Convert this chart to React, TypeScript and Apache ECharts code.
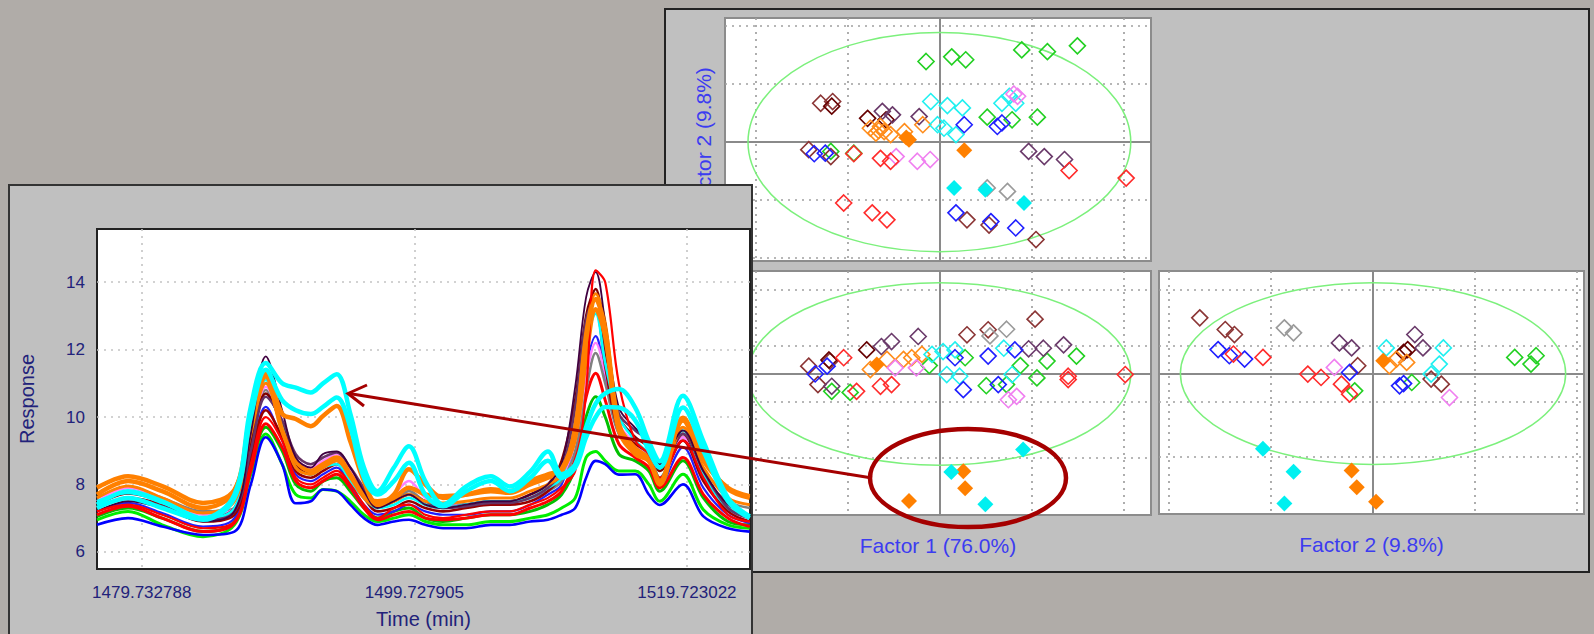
import { useEffect, useRef } from 'react';
import * as echarts from 'echarts';

const PAGE_BG = '#b0aca8';
const PANEL_BG = '#c0c0c0';
const FONT = '"Liberation Sans", Arial, sans-serif';
const NAVY = '#22227a';
const FACTOR_BLUE = '#3c3cf0';
const ANNOT_RED = '#a50000';

// ---------- Line chart data (Response vs Time) ----------
const TIMES = [1476.45, 1478.73, 1481.23, 1484.23, 1486.53, 1487.73, 1488.83, 1490.03, 1491.03, 1492.13,
  1493.03, 1494.03, 1495.03, 1496.03, 1497.03, 1498.23, 1499.33, 1500.53, 1501.83, 1503.53,
  1505.33, 1506.73, 1508.23, 1509.53, 1510.53, 1511.53, 1512.33, 1513.03, 1513.73, 1514.73,
  1515.93, 1516.93, 1517.73, 1519.43, 1520.93, 1522.73, 1524.33];
const TIME_TICKS = [1479.732788, 1499.727905, 1519.723022];
const RESPONSE_TICKS = [6, 8, 10, 12, 14];

const cyanA = [7.4, 7.8, 7.5, 7.0, 7.7, 10.3, 11.6, 11.0, 10.87, 10.73,
  11.0, 11.27, 10.1, 8.5, 7.8, 8.5, 9.13, 8.1, 7.4, 7.94,
  8.24, 7.94, 8.38, 8.98, 8.3, 8.6, 9.7, 10.4, 10.7, 10.83,
  10.28, 9.28, 8.69, 10.63, 9.28, 7.6, 7.05];
const cyanB = [7.3, 7.6, 7.3, 6.95, 7.6, 10.0, 11.4, 10.5, 10.2, 10.09,
  10.3, 10.58, 9.7, 8.2, 7.7, 8.1, 8.64, 7.7, 7.35, 7.8,
  8.1, 7.8, 8.2, 8.7, 8.2, 8.5, 9.4, 10.0, 10.3, 10.28,
  9.9, 9.0, 8.5, 10.28, 9.0, 7.5, 7.0];
const orangeA = [7.7, 8.1, 7.8, 7.3, 7.8, 10.1, 11.3, 10.1, 9.94, 9.73,
  10.03, 10.33, 9.28, 8.1, 7.4, 7.7, 8.45, 8.0, 7.6, 7.7,
  7.86, 7.8, 8.1, 8.3, 8.45, 9.6, 12.3, 13.5, 12.6, 9.8,
  9.0, 8.7, 8.1, 9.98, 8.78, 7.86, 7.6];
const orangeTop = [7.9, 8.24, 7.95, 7.45, 7.84, 9.8, 11.2, 9.6, 8.7, 8.4,
  8.6, 8.8, 8.3, 7.7, 7.5, 7.6, 7.9, 7.7, 7.65, 7.7,
  7.8, 7.75, 8.0, 8.2, 8.4, 9.4, 11.8, 13.2, 12.4, 9.6,
  8.9, 8.7, 8.0, 9.9, 8.7, 7.9, 7.65];
const purple = [7.2, 7.5, 7.3, 6.9, 7.2, 9.5, 11.8, 10.2, 8.8, 8.5,
  8.9, 8.98, 8.5, 7.8, 7.3, 7.5, 7.7, 7.4, 7.3, 7.4,
  7.5, 7.5, 7.7, 8.0, 8.6, 10.9, 13.56, 14.3, 12.8, 10.28,
  9.68, 9.3, 8.6, 9.6, 8.4, 7.4, 7.1];
const red = [7.2, 7.4, 7.1, 6.7, 6.9, 8.6, 10.0, 9.3, 8.2, 8.0,
  8.2, 8.4, 8.0, 7.4, 7.0, 7.3, 7.4, 7.1, 7.0, 7.1,
  7.2, 7.2, 7.4, 7.6, 7.9, 8.4, 10.8, 14.35, 14.0, 11.0,
  9.3, 8.9, 8.2, 9.3, 8.2, 7.1, 6.9];
const brown = [7.4, 7.73, 7.5, 7.0, 7.3, 9.2, 10.7, 9.8, 8.6, 8.3,
  8.6, 8.8, 8.3, 7.7, 7.3, 7.5, 7.7, 7.4, 7.3, 7.4,
  7.5, 7.5, 7.7, 8.0, 8.7, 10.5, 13.0, 13.8, 12.0, 10.0,
  9.4, 9.1, 8.4, 9.5, 8.3, 7.3, 7.0];
const darkred = [7.3, 7.6, 7.4, 6.9, 7.1, 8.8, 10.2, 9.4, 8.4, 8.2,
  8.4, 8.6, 8.1, 7.6, 7.2, 7.3, 7.5, 7.3, 7.2, 7.3,
  7.4, 7.4, 7.5, 7.8, 8.3, 9.8, 12.4, 13.2, 11.5, 9.6,
  9.2, 8.9, 8.2, 9.3, 8.1, 7.2, 6.9];
const pink = [7.5, 7.9, 7.6, 7.1, 7.3, 9.3, 10.9, 9.9, 8.78, 8.5,
  8.7, 8.9, 8.4, 7.8, 7.4, 7.7, 8.1, 7.6, 7.35, 7.4,
  7.5, 7.5, 7.6, 7.9, 8.2, 9.3, 11.2, 12.2, 11.3, 9.8,
  9.2, 8.8, 8.1, 9.4, 8.1, 7.2, 6.9];
const gray = [7.6, 7.9, 7.6, 7.2, 7.3, 9.0, 10.8, 9.7, 8.6, 8.3,
  8.5, 8.7, 8.2, 7.7, 7.4, 7.5, 7.8, 7.5, 7.4, 7.4,
  7.5, 7.5, 7.6, 7.8, 8.1, 9.0, 10.8, 11.9, 11.0, 9.5,
  9.1, 8.9, 8.2, 9.4, 8.2, 7.5, 7.3];
const blue = [6.8, 7.0, 6.75, 6.5, 6.6, 8.0, 9.4, 8.6, 7.44, 7.5,
  7.85, 7.8, 7.4, 7.0, 6.8, 6.9, 6.95, 6.8, 6.7, 6.7,
  6.8, 6.8, 6.9, 6.95, 7.1, 7.3, 8.2, 8.7, 8.6, 8.29,
  8.3, 7.7, 7.39, 8.0, 7.05, 6.7, 6.6];
const green = [6.95, 7.2, 6.8, 6.45, 6.8, 8.3, 9.5, 8.6, 7.7, 7.6,
  7.85, 7.8, 7.5, 7.1, 6.9, 7.0, 7.1, 6.9, 6.8, 6.8,
  6.9, 6.9, 7.0, 7.1, 7.3, 7.6, 8.8, 8.98, 8.7, 8.4,
  8.4, 8.0, 7.5, 8.3, 7.25, 6.8, 6.7];
const green2 = [7.05, 7.3, 7.0, 6.6, 6.9, 8.5, 9.7, 9.0, 8.0, 7.8,
  8.1, 8.2, 7.8, 7.3, 7.0, 7.2, 7.3, 7.0, 6.9, 7.0,
  7.1, 7.1, 7.2, 7.4, 7.7, 8.5, 10.0, 10.6, 10.0, 8.9,
  8.7, 8.4, 7.8, 8.7, 7.6, 6.9, 6.8];
const red2 = [7.1, 7.35, 7.0, 6.6, 6.85, 8.4, 9.8, 9.1, 8.1, 7.9,
  8.1, 8.3, 7.9, 7.3, 6.95, 7.1, 7.2, 7.0, 6.95, 7.0,
  7.1, 7.1, 7.3, 7.5, 7.8, 8.8, 10.6, 11.3, 10.5, 9.2,
  8.8, 8.5, 7.9, 8.8, 7.7, 7.0, 6.75];
const blue2 = [7.2, 7.45, 7.15, 6.75, 7.0, 8.8, 10.3, 9.3, 8.3, 8.1,
  8.3, 8.5, 8.0, 7.4, 7.1, 7.2, 7.4, 7.2, 7.1, 7.1,
  7.2, 7.2, 7.4, 7.7, 8.0, 9.4, 11.5, 12.4, 11.2, 9.5,
  9.0, 8.7, 8.0, 9.1, 7.9, 7.1, 6.85];
const cyanC = [7.5, 7.75, 7.45, 7.0, 7.3, 9.6, 11.1, 9.7, 8.5, 8.3,
  8.5, 8.6, 8.1, 7.6, 7.3, 7.4, 7.6, 7.4, 7.3, 7.4,
  7.5, 7.5, 7.6, 7.9, 8.2, 9.8, 12.2, 13.07, 11.6, 10.0,
  9.3, 8.9, 8.2, 9.6, 8.3, 7.3, 7.05];
const orangeB = [7.6, 7.95, 7.6, 7.15, 7.5, 9.5, 11.0, 9.6, 8.5, 8.3,
  8.5, 8.7, 8.2, 7.6, 7.35, 7.5, 7.7, 7.5, 7.45, 7.5,
  7.6, 7.6, 7.8, 8.0, 8.3, 9.8, 12.6, 13.66, 12.8, 9.8,
  9.1, 8.8, 8.1, 9.7, 8.5, 7.6, 7.4];
const plum = [7.3, 7.6, 7.35, 6.95, 7.2, 9.0, 10.6, 9.9, 8.9, 8.6,
  8.8, 8.95, 8.5, 7.9, 7.4, 7.5, 7.7, 7.5, 7.3, 7.35,
  7.45, 7.45, 7.6, 7.9, 8.4, 10.3, 12.9, 13.5, 12.2, 10.1,
  9.6, 9.28, 8.5, 9.5, 8.4, 7.3, 7.0];

const TRACES = [
  { values: green, color: '#00ee00', width: 3 },
  { values: blue, color: '#0000ff', width: 2.6 },
  { values: green2, color: '#00c000', width: 3 },
  { values: red2, color: '#ff0000', width: 3 },
  { values: blue2, color: '#2020ff', width: 2.2 },
  { values: gray, color: '#808080', width: 2.6 },
  { values: pink, color: '#ff80ff', width: 2.4 },
  { values: darkred, color: '#990000', width: 2.6 },
  { values: brown, color: '#800000', width: 2.6 },
  { values: cyanC, color: '#00ffff', width: 2.6 },
  { values: plum, color: '#663366', width: 2.6 },
  { values: orangeB, color: '#ff8000', width: 3 },
  { values: orangeTop, color: '#ff8000', width: 4.5 },
  { values: purple, color: '#400040', width: 1.8 },
  { values: red, color: '#ff0000', width: 2.2 },
  { values: orangeA, color: '#ff8000', width: 4.5 },
  { values: cyanB, color: '#00ffff', width: 4.5 },
  { values: cyanA, color: '#00ffff', width: 4.5 },
];

// ---------- Scatter (factor score) data ----------
const ELL_F1 = 2.08;
const ELL_F2 = 1.89;
const ELL_F3 = 1.63;

const f12Green = [[-0.145, 1.39], [0.134, 1.47], [0.286, 1.42], [0.895, 1.59], [1.174, 1.56], [1.5, 1.66], [1.065, 0.43], [0.52, 0.43], [0.79, 0.385], [-1.18, -0.16], [-0.93, -0.19]];
const f12Brown = [[-1.29, 0.67], [-1.16, 0.70], [-1.42, -0.13], [-1.18, -0.25], [0.30, -1.34], [0.54, -1.43], [1.05, -1.68]];
const f12Maroon = [[-0.78, 0.41], [-0.58, 0.385], [-1.17, 0.62]];
const f12Purple = [[-0.62, 0.53], [-0.51, 0.47], [-0.22, 0.44], [0.97, -0.16], [1.14, -0.25], [1.36, -0.30]];
const f12Orange = [[-0.75, 0.24], [-0.64, 0.27], [-0.60, 0.18], [-0.53, 0.13], [-0.38, 0.18], [-0.18, 0.30], [-0.69, 0.155], [-0.66, 0.2]];
const f12Cyan = [[-0.094, 0.70], [0.087, 0.63], [0.25, 0.59], [-0.02, 0.30], [0.05, 0.24], [0.18, 0.13], [0.68, 0.67], [0.76, 0.79], [0.83, 0.67]];
const f12Blue = [[0.27, 0.30], [0.63, 0.27], [0.68, 0.33], [-1.36, -0.20], [-1.24, -0.19], [0.18, -1.22], [0.56, -1.37], [0.83, -1.48]];
const f12Pink = [[0.81, 0.83], [0.85, 0.79], [-0.47, -0.25], [-0.24, -0.33], [-0.10, -0.30]];
const f12Red = [[-0.64, -0.28], [-0.53, -0.33], [-0.93, -0.20], [1.41, -0.49], [2.03, -0.62], [-1.04, -1.05], [-0.73, -1.22], [-0.57, -1.34]];
const f12Gray = [[0.52, -0.79], [0.74, -0.85]];
const f12OrangeFilled = [[-0.33, 0.04], [0.27, -0.14], [-0.36, 0.08]];
const f12CyanFilled = [[0.16, -0.79], [0.50, -0.82], [0.92, -1.05]];

const f13Green = [[-1.17, -0.31], [-0.97, -0.33], [-0.11, 0.15], [0.28, 0.29], [0.51, -0.21], [0.88, 0.15], [1.17, 0.23], [1.49, 0.32], [1.06, -0.07], [0.73, -0.19]];
const f13Brown = [[-1.42, 0.14], [-1.19, 0.23], [-1.32, -0.19], [0.30, 0.70], [0.53, 0.79], [1.04, 0.98]];
const f13Maroon = [[-0.79, 0.43], [-1.2, 0.25]];
const f13Purple = [[-0.63, 0.49], [-0.52, 0.58], [-0.23, 0.67], [0.97, 0.45], [1.13, 0.46], [1.35, 0.52], [-1.17, -0.22]];
const f13Orange = [[-0.75, 0.08], [-0.57, 0.26], [-0.39, 0.26], [-0.30, 0.29], [-0.19, 0.35]];
const f13Cyan = [[-0.08, 0.35], [0.04, 0.40], [0.17, 0.43], [0.08, -0.01], [0.22, -0.04], [0.70, 0.46], [0.79, -0.01]];
const f13Blue = [[-1.35, 0.0], [-1.22, 0.14], [0.17, 0.29], [0.53, 0.32], [0.82, 0.43], [0.26, -0.28], [0.64, -0.19]];
const f13Pink = [[-0.48, 0.11], [-0.25, 0.11], [0.75, -0.46], [0.84, -0.40]];
const f13Red = [[-1.04, 0.29], [-0.90, -0.31], [-0.64, -0.22], [-0.52, -0.19], [1.40, -0.04], [1.40, -0.10], [2.02, -0.01]];
const f13Gray = [[0.55, 0.68], [0.73, 0.80]];
const f13OrangeFilled = [[-0.68, 0.17], [0.26, -1.74], [0.28, -2.04], [-0.33, -2.27]];
const f13CyanFilled = [[0.91, -1.35], [0.13, -1.75], [0.50, -2.33]];

const f23Green = [[-0.18, -0.31], [0.38, -0.16], [1.39, 0.29], [1.60, 0.32], [1.55, 0.17]];
const f23Brown = [[-1.70, 1.0], [-1.45, 0.79], [-1.36, 0.70], [0.57, -0.10], [0.67, -0.19], [-0.15, 0.14]];
const f23Maroon = [[0.34, 0.43], [0.30, 0.38]];
const f23Purple = [[-0.33, 0.55], [-0.21, 0.46], [0.41, 0.70], [0.49, 0.46]];
const f23Orange = [[0.16, 0.14], [0.33, 0.20], [0.23, 0.26]];
const f23Cyan = [[0.13, 0.46], [0.69, 0.46], [0.65, 0.17], [0.57, -0.01]];
const f23Blue = [[-1.52, 0.43], [-1.41, 0.32], [-1.26, 0.26], [-0.23, 0.02], [0.26, -0.22], [0.30, -0.18]];
const f23Pink = [[-0.38, 0.11], [0.75, -0.43]];
const f23Red = [[-1.37, 0.35], [-1.08, 0.29], [-0.64, -0.01], [-0.51, -0.07], [-0.31, -0.19], [-0.23, -0.37]];
const f23Gray = [[-0.87, 0.82], [-0.78, 0.73]];
const f23OrangeFilled = [[0.10, 0.23], [-0.21, -1.74], [-0.16, -2.04], [0.03, -2.30]];
const f23CyanFilled = [[-1.08, -1.35], [-0.78, -1.76], [-0.87, -2.33]];

const GROUPS = [
  { color: '#22d022', filled: false, f12: f12Green, f13: f13Green, f23: f23Green },
  { color: '#8b3535', filled: false, f12: f12Brown, f13: f13Brown, f23: f23Brown },
  { color: '#660000', filled: false, f12: f12Maroon, f13: f13Maroon, f23: f23Maroon },
  { color: '#6a3a6a', filled: false, f12: f12Purple, f13: f13Purple, f23: f23Purple },
  { color: '#ff8c1a', filled: false, f12: f12Orange, f13: f13Orange, f23: f23Orange },
  { color: '#20f0f0', filled: false, f12: f12Cyan, f13: f13Cyan, f23: f23Cyan },
  { color: '#1f1fff', filled: false, f12: f12Blue, f13: f13Blue, f23: f23Blue },
  { color: '#f07ff0', filled: false, f12: f12Pink, f13: f13Pink, f23: f23Pink },
  { color: '#ff2b2b', filled: false, f12: f12Red, f13: f13Red, f23: f23Red },
  { color: '#9a9a9a', filled: false, f12: f12Gray, f13: f13Gray, f23: f23Gray },
  { color: '#ff8000', filled: true, f12: f12OrangeFilled, f13: f13OrangeFilled, f23: f23OrangeFilled },
  { color: '#00f0f0', filled: true, f12: f12CyanFilled, f13: f13CyanFilled, f23: f23CyanFilled },
];

const PLOTS = [
  { key: 'f12', rect: { left: 725, top: 18, width: 426, height: 243 }, xRange: [-2.33, 2.30], yRange: [-2.05, 2.14], xGrid: [-2, -1, 1, 2], yGrid: [-2, -1, 1, 2], xName: '', yName: 'Factor 2 (9.8%)', rx: ELL_F1, ry: ELL_F2 },
  { key: 'f13', rect: { left: 725, top: 271, width: 426, height: 244 }, xRange: [-2.33, 2.30], yRange: [-2.52, 1.84], xGrid: [-2, -1, 1, 2], yGrid: [-1.5, -0.5, 0.5, 1.5], xName: 'Factor 1 (76.0%)', yName: '', rx: ELL_F1, ry: ELL_F3 },
  { key: 'f23', rect: { left: 1159, top: 271, width: 425, height: 243 }, xRange: [-2.10, 2.07], yRange: [-2.52, 1.84], xGrid: [-2, -1, 1, 2], yGrid: [-1.5, -0.5, 0.5, 1.5], xName: 'Factor 2 (9.8%)', yName: '', rx: ELL_F2, ry: ELL_F3 },
];

const dotted = { color: '#a0a0a0', type: [2, 5] as number[], width: 1.7 };

function buildRightOption(): any {
  const grid = PLOTS.map((p) => ({
    ...p.rect, show: true, backgroundColor: '#ffffff', borderColor: '#8c8c8c', borderWidth: 2, z: 1,
    containLabel: false, outerBoundsMode: 'none',
  }));
  const nameStyle = { color: FACTOR_BLUE, fontSize: 21, fontFamily: FONT };
  const xAxis = PLOTS.map((p, i) => ({
    type: 'value', gridIndex: i, min: p.xRange[0], max: p.xRange[1], z: 2,
    axisLine: { show: false }, axisTick: { show: false, customValues: p.xGrid },
    axisLabel: { show: false, customValues: p.xGrid },
    splitLine: { show: true, lineStyle: dotted },
    name: p.xName, nameLocation: 'middle', nameGap: 20, nameTextStyle: nameStyle,
  }));
  const yAxis = PLOTS.map((p, i) => ({
    type: 'value', gridIndex: i, min: p.yRange[0], max: p.yRange[1], z: 2,
    axisLine: { show: false }, axisTick: { show: false, customValues: p.yGrid },
    axisLabel: { show: false, customValues: p.yGrid },
    splitLine: { show: true, lineStyle: dotted },
    name: p.yName, nameLocation: 'middle', nameGap: 11, nameTextStyle: nameStyle,
  }));
  const series: any[] = [];
  PLOTS.forEach((p, i) => {
    series.push({
      type: 'scatter', xAxisIndex: i, yAxisIndex: i, data: [], silent: true, z: 2,
      markLine: {
        silent: true, symbol: ['none', 'none'], z: 2, animation: false,
        label: { show: false },
        lineStyle: { color: '#8a8a8a', width: 2, type: 'solid' },
        emphasis: { disabled: true },
        data: [{ xAxis: 0 }, { yAxis: 0 }],
      },
    });
    GROUPS.forEach((g) => {
      series.push({
        type: 'scatter', xAxisIndex: i, yAxisIndex: i, z: 3, silent: true,
        data: (g as any)[p.key],
        symbol: 'diamond', symbolSize: 16,
        emphasis: { disabled: true },
        itemStyle: g.filled
          ? { color: g.color, opacity: 1 }
          : { color: 'rgba(255,255,255,0)', borderColor: g.color, borderWidth: 1.6, opacity: 1 },
      });
    });
  });
  return { animation: false, backgroundColor: 'transparent', grid, xAxis, yAxis, series };
}

function buildRightGraphics(chart: any): any[] {
  const els: any[] = [
    {
      type: 'rect', id: 'rpanel', z: 0, silent: true,
      shape: { x: 665, y: 9, width: 924, height: 563 },
      style: { fill: PANEL_BG, stroke: '#222222', lineWidth: 2 },
    },
  ];
  PLOTS.forEach((p, i) => {
    const c = chart.convertToPixel({ gridIndex: i }, [0, 0]);
    const ex = chart.convertToPixel({ gridIndex: i }, [p.rx, 0]);
    const ey = chart.convertToPixel({ gridIndex: i }, [0, p.ry]);
    els.push({
      type: 'ellipse', id: 'ell' + i, z: 2, silent: true,
      shape: { cx: c[0], cy: c[1], rx: Math.abs(ex[0] - c[0]), ry: Math.abs(c[1] - ey[1]) },
      style: { fill: 'none', stroke: '#7cf07c', lineWidth: 1.5 },
    });
  });
  els.push({
    type: 'ellipse', id: 'highlight', z: 10, silent: true,
    shape: { cx: 968, cy: 478, rx: 98, ry: 49 },
    style: { fill: 'none', stroke: ANNOT_RED, lineWidth: 4.5 },
  });
  return els;
}

function buildLeftOption(): any {
  const axisText = { color: NAVY, fontSize: 17, fontFamily: FONT };
  const gridDots = { color: '#c4c4c4', type: [2, 5] as number[], width: 1.6 };
  return {
    animation: false,
    backgroundColor: 'transparent',
    graphic: [
      {
        type: 'rect', z: 0, silent: true,
        shape: { x: 9, y: 185, width: 743, height: 460 },
        style: { fill: PANEL_BG, stroke: '#333333', lineWidth: 2 },
      },
      {
        type: 'line', z: 10, silent: true,
        shape: { x1: 872, y1: 478, x2: 349, y2: 393.5 },
        style: { stroke: ANNOT_RED, lineWidth: 3 },
      },
      {
        type: 'polyline', z: 10, silent: true,
        shape: { points: [[367, 385], [348, 393.5], [364, 406]] },
        style: { stroke: ANNOT_RED, lineWidth: 3, fill: 'none' },
      },
    ],
    grid: {
      left: 97, top: 229, width: 653, height: 340, show: true, backgroundColor: '#ffffff',
      borderColor: '#222222', borderWidth: 2, z: 1, containLabel: false, outerBoundsMode: 'none',
    },
    xAxis: {
      type: 'value', min: 1476.45, max: 1524.35, z: 2,
      axisLine: { show: false },
      axisTick: { show: false, customValues: TIME_TICKS },
      axisLabel: { ...axisText, margin: 15, customValues: TIME_TICKS, formatter: (v: number) => v.toFixed(6) },
      splitLine: { show: true, lineStyle: gridDots },
      name: 'Time (min)', nameLocation: 'middle', nameGap: 40,
      nameTextStyle: { color: NAVY, fontSize: 20, fontFamily: FONT },
    },
    yAxis: {
      type: 'value', min: 5.49, max: 15.58, z: 2,
      axisLine: { show: false },
      axisTick: { show: false, customValues: RESPONSE_TICKS },
      axisLabel: { ...axisText, margin: 12, customValues: RESPONSE_TICKS },
      splitLine: { show: true, lineStyle: gridDots },
      name: 'Response', nameLocation: 'middle', nameGap: 60,
      nameTextStyle: { color: NAVY, fontSize: 20, fontFamily: FONT },
    },
    series: TRACES.map((t) => ({
      type: 'line', z: 3, silent: true, smooth: 0.35, symbol: 'none',
      data: TIMES.map((x, i) => [x, t.values[i]]),
      lineStyle: { color: t.color, width: t.width },
      emphasis: { disabled: true },
    })),
  };
}

export default function App() {
  const rightRef = useRef<HTMLDivElement>(null);
  const leftRef = useRef<HTMLDivElement>(null);
  useEffect(() => {
    document.body.style.margin = '0';
    const right = echarts.init(rightRef.current as HTMLDivElement, undefined, { renderer: 'svg' });
    right.setOption(buildRightOption());
    right.setOption({ graphic: buildRightGraphics(right) });
    const left = echarts.init(leftRef.current as HTMLDivElement, undefined, { renderer: 'svg' });
    left.setOption(buildLeftOption());
    return () => {
      right.dispose();
      left.dispose();
    };
  }, []);
  return (
    <div style={{ position: 'fixed', left: 0, top: 0, width: 1594, height: 634, background: PAGE_BG, overflow: 'hidden' }}>
      <div ref={rightRef} style={{ position: 'absolute', left: 0, top: 0, width: 1594, height: 634 }} />
      <div ref={leftRef} style={{ position: 'absolute', left: 0, top: 0, width: 1594, height: 634 }} />
    </div>
  );
}
